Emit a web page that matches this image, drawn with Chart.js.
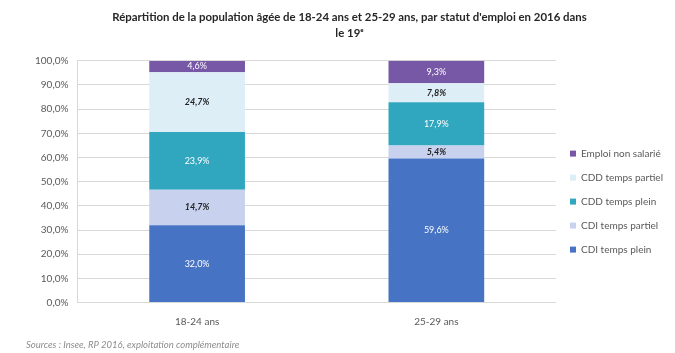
<!DOCTYPE html>
<html>
<head>
<meta charset="utf-8">
<script src="https://cdn.jsdelivr.net/npm/chart.js@4"></script>
<style>
  html, body { margin: 0; padding: 0; background: #fff; }
  #wrap { width: 675px; height: 353px; }
</style>
</head>
<body>
<div id="wrap"><canvas id="chart"></canvas></div>
<script>
// --- données ---
const categories = ['18-24 ans', '25-29 ans'];
const seriesNames = ['CDI temps plein', 'CDI temps partiel', 'CDD temps plein', 'CDD temps partiel', 'Emploi non salarié'];
const cdiPlein = [32.0, 59.6];
const cdiPartiel = [14.7, 5.4];
const cddPlein = [23.9, 17.9];
const cddPartiel = [24.7, 7.8];
const nonSalarie = [4.6, 9.3];
const yTicks = [0, 10, 20, 30, 40, 50, 60, 70, 80, 90, 100];

const colors = ['#4673c3', '#c8d2ee', '#31a6bf', '#ddeef7', '#7658a6'];
const labelColors = ['#ffffff', '#1f1f1f', '#ffffff', '#1f1f1f', '#ffffff'];
const labelItalic = [false, true, false, true, false];
const seriesValues = [cdiPlein, cdiPartiel, cddPlein, cddPartiel, nonSalarie];

const fmt = v => v.toFixed(1).replace('.', ',') + '%';

// étiquettes de valeurs au centre des segments
const valueLabels = {
    id: 'valueLabels',
    afterDatasetsDraw(chart) {
        const ctx = chart.ctx;
        chart.data.datasets.forEach((ds, i) => {
            const meta = chart.getDatasetMeta(i);
            if (meta.hidden) return;
            meta.data.forEach((bar, j) => {
                const y = (bar.y + bar.base) / 2;
                ctx.save();
                ctx.font = (labelItalic[i] ? 'italic bold ' : '') + '9px Lato';
                ctx.fillStyle = labelColors[i];
                ctx.textAlign = 'center';
                ctx.textBaseline = 'middle';
                ctx.fillText(fmt(ds.data[j]), bar.x, y);
                ctx.restore();
            });
        });
    }
};

new Chart(document.getElementById('chart'), {
    type: 'bar',
    data: {
        labels: categories,
        datasets: seriesNames.map((name, i) => ({
            label: name,
            data: seriesValues[i],
            backgroundColor: colors[i],
            barPercentage: 0.4,
            categoryPercentage: 1.0
        }))
    },
    options: {
        responsive: true,
        maintainAspectRatio: false,
        animation: false,
        layout: { padding: { left: 26, right: 2, top: 4, bottom: 1 } },
        plugins: {
            title: {
                display: true,
                text: ["Répartition de la population âgée de 18-24 ans et 25-29 ans, par statut d'emploi en 2016 dans", 'le 19ᵉ'],
                color: '#262626',
                font: { family: 'Lato', size: 11.4, weight: 'bold', lineHeight: 1.35 },
                padding: { top: 6, bottom: 20 }
            },
            subtitle: {
                display: true,
                position: 'bottom',
                align: 'start',
                text: 'Sources : Insee, RP 2016, exploitation complémentaire',
                color: '#8c8c8c',
                font: { family: 'Lato', size: 9.5, style: 'italic' },
                padding: { top: 7, bottom: 1 }
            },
            legend: {
                position: 'right',
                reverse: true,
                title: { display: true, text: ' ', font: { size: 1 }, padding: { top: 23, bottom: 23 } },
                labels: {
                    boxWidth: 6,
                    boxHeight: 6,
                    padding: 14,
                    color: '#595959',
                    font: { family: 'Lato', size: 10 }
                }
            },
            tooltip: { enabled: false }
        },
        scales: {
            x: {
                stacked: true,
                grid: { display: false },
                border: { color: '#d9d9d9' },
                ticks: { color: '#595959', padding: 5, font: { family: 'Lato', size: 10 } }
            },
            y: {
                stacked: true,
                min: 0,
                max: 100,
                afterBuildTicks: axis => { axis.ticks = yTicks.map(v => ({ value: v })); },
                grid: { color: '#d9d9d9', drawTicks: false },
                border: { color: '#d9d9d9' },
                ticks: {
                    color: '#595959',
                    padding: 9,
                    font: { family: 'Lato', size: 10 },
                    callback: v => v.toFixed(1).replace('.', ',') + '%'
                }
            }
        }
    },
    plugins: [valueLabels]
});
</script>
</body>
</html>
